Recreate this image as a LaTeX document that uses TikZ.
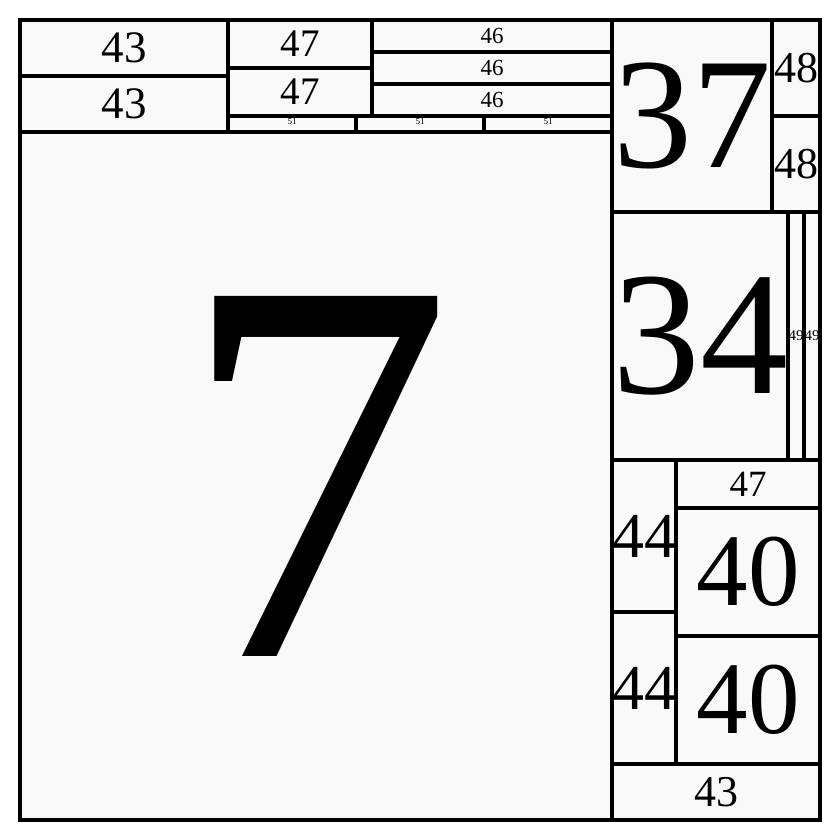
\documentclass[tikz,border=0pt]{standalone}
\usepackage{fontspec}
\setmainfont{Liberation Serif}
\definecolor{cellfill}{HTML}{F9F9F9}
\tikzset{
  cellbox/.style={draw=black, line width=3.5pt},
  lab/.style={inner sep=0pt, text=black},
}
\newcommand\cell[7]{%
  \draw[cellbox] (#2,#3) rectangle (#4,#5);
  \node[lab, font=\fontsize{#6}{#6}\selectfont] (#1) at ({(#2+#4)/2},{(#3+#5)/2}) {#7};}
\begin{document}
\begin{tikzpicture}[x=1pt, y=-1pt]
\useasboundingbox (0,0) rectangle (840,840);
\fill[cellfill] (20,20) rectangle (820,820);
% big block
\cell{seven}{20}{132}{612}{820}{550}{7}
% top left
\cell{tlA}{20}{20}{228}{76}{45}{43}
\cell{tlB}{20}{76}{228}{132}{45}{43}
\cell{fsA}{228}{20}{372}{68}{39}{47}
\cell{fsB}{228}{68}{372}{116}{39}{47}
\cell{fxA}{372}{20}{612}{52}{23}{46}
\cell{fxB}{372}{52}{612}{84}{23}{46}
\cell{fxC}{372}{84}{612}{116}{23}{46}
\draw[cellbox] (228,116) rectangle (356,132);
\draw[cellbox] (356,116) rectangle (484,132);
\draw[cellbox] (484,116) rectangle (612,132);
\node[lab, font=\fontsize{9}{9}\selectfont] (fo1) at (292,122) {51};
\node[lab, font=\fontsize{9}{9}\selectfont] (fo2) at (420,122) {51};
\node[lab, font=\fontsize{9}{9}\selectfont] (fo3) at (548,122) {51};
% right column
\cell{thirtyseven}{612}{20}{772}{212}{158}{37}
\cell{feA}{772}{20}{820}{116}{44}{48}
\cell{feB}{772}{116}{820}{212}{44}{48}
\cell{thirtyfour}{612}{212}{788}{460}{176}{34}
\cell{fnA}{788}{212}{804}{460}{15}{49}
\cell{fnB}{804}{212}{820}{460}{15}{49}
\cell{ffA}{612}{460}{676}{612}{64}{44}
\cell{ffB}{612}{612}{676}{764}{64}{44}
\cell{fsC}{676}{460}{820}{508}{37}{47}
\cell{frA}{676}{508}{820}{636}{103}{40}
\cell{frB}{676}{636}{820}{764}{103}{40}
\cell{tlC}{612}{764}{820}{820}{44}{43}
\end{tikzpicture}
\end{document}
